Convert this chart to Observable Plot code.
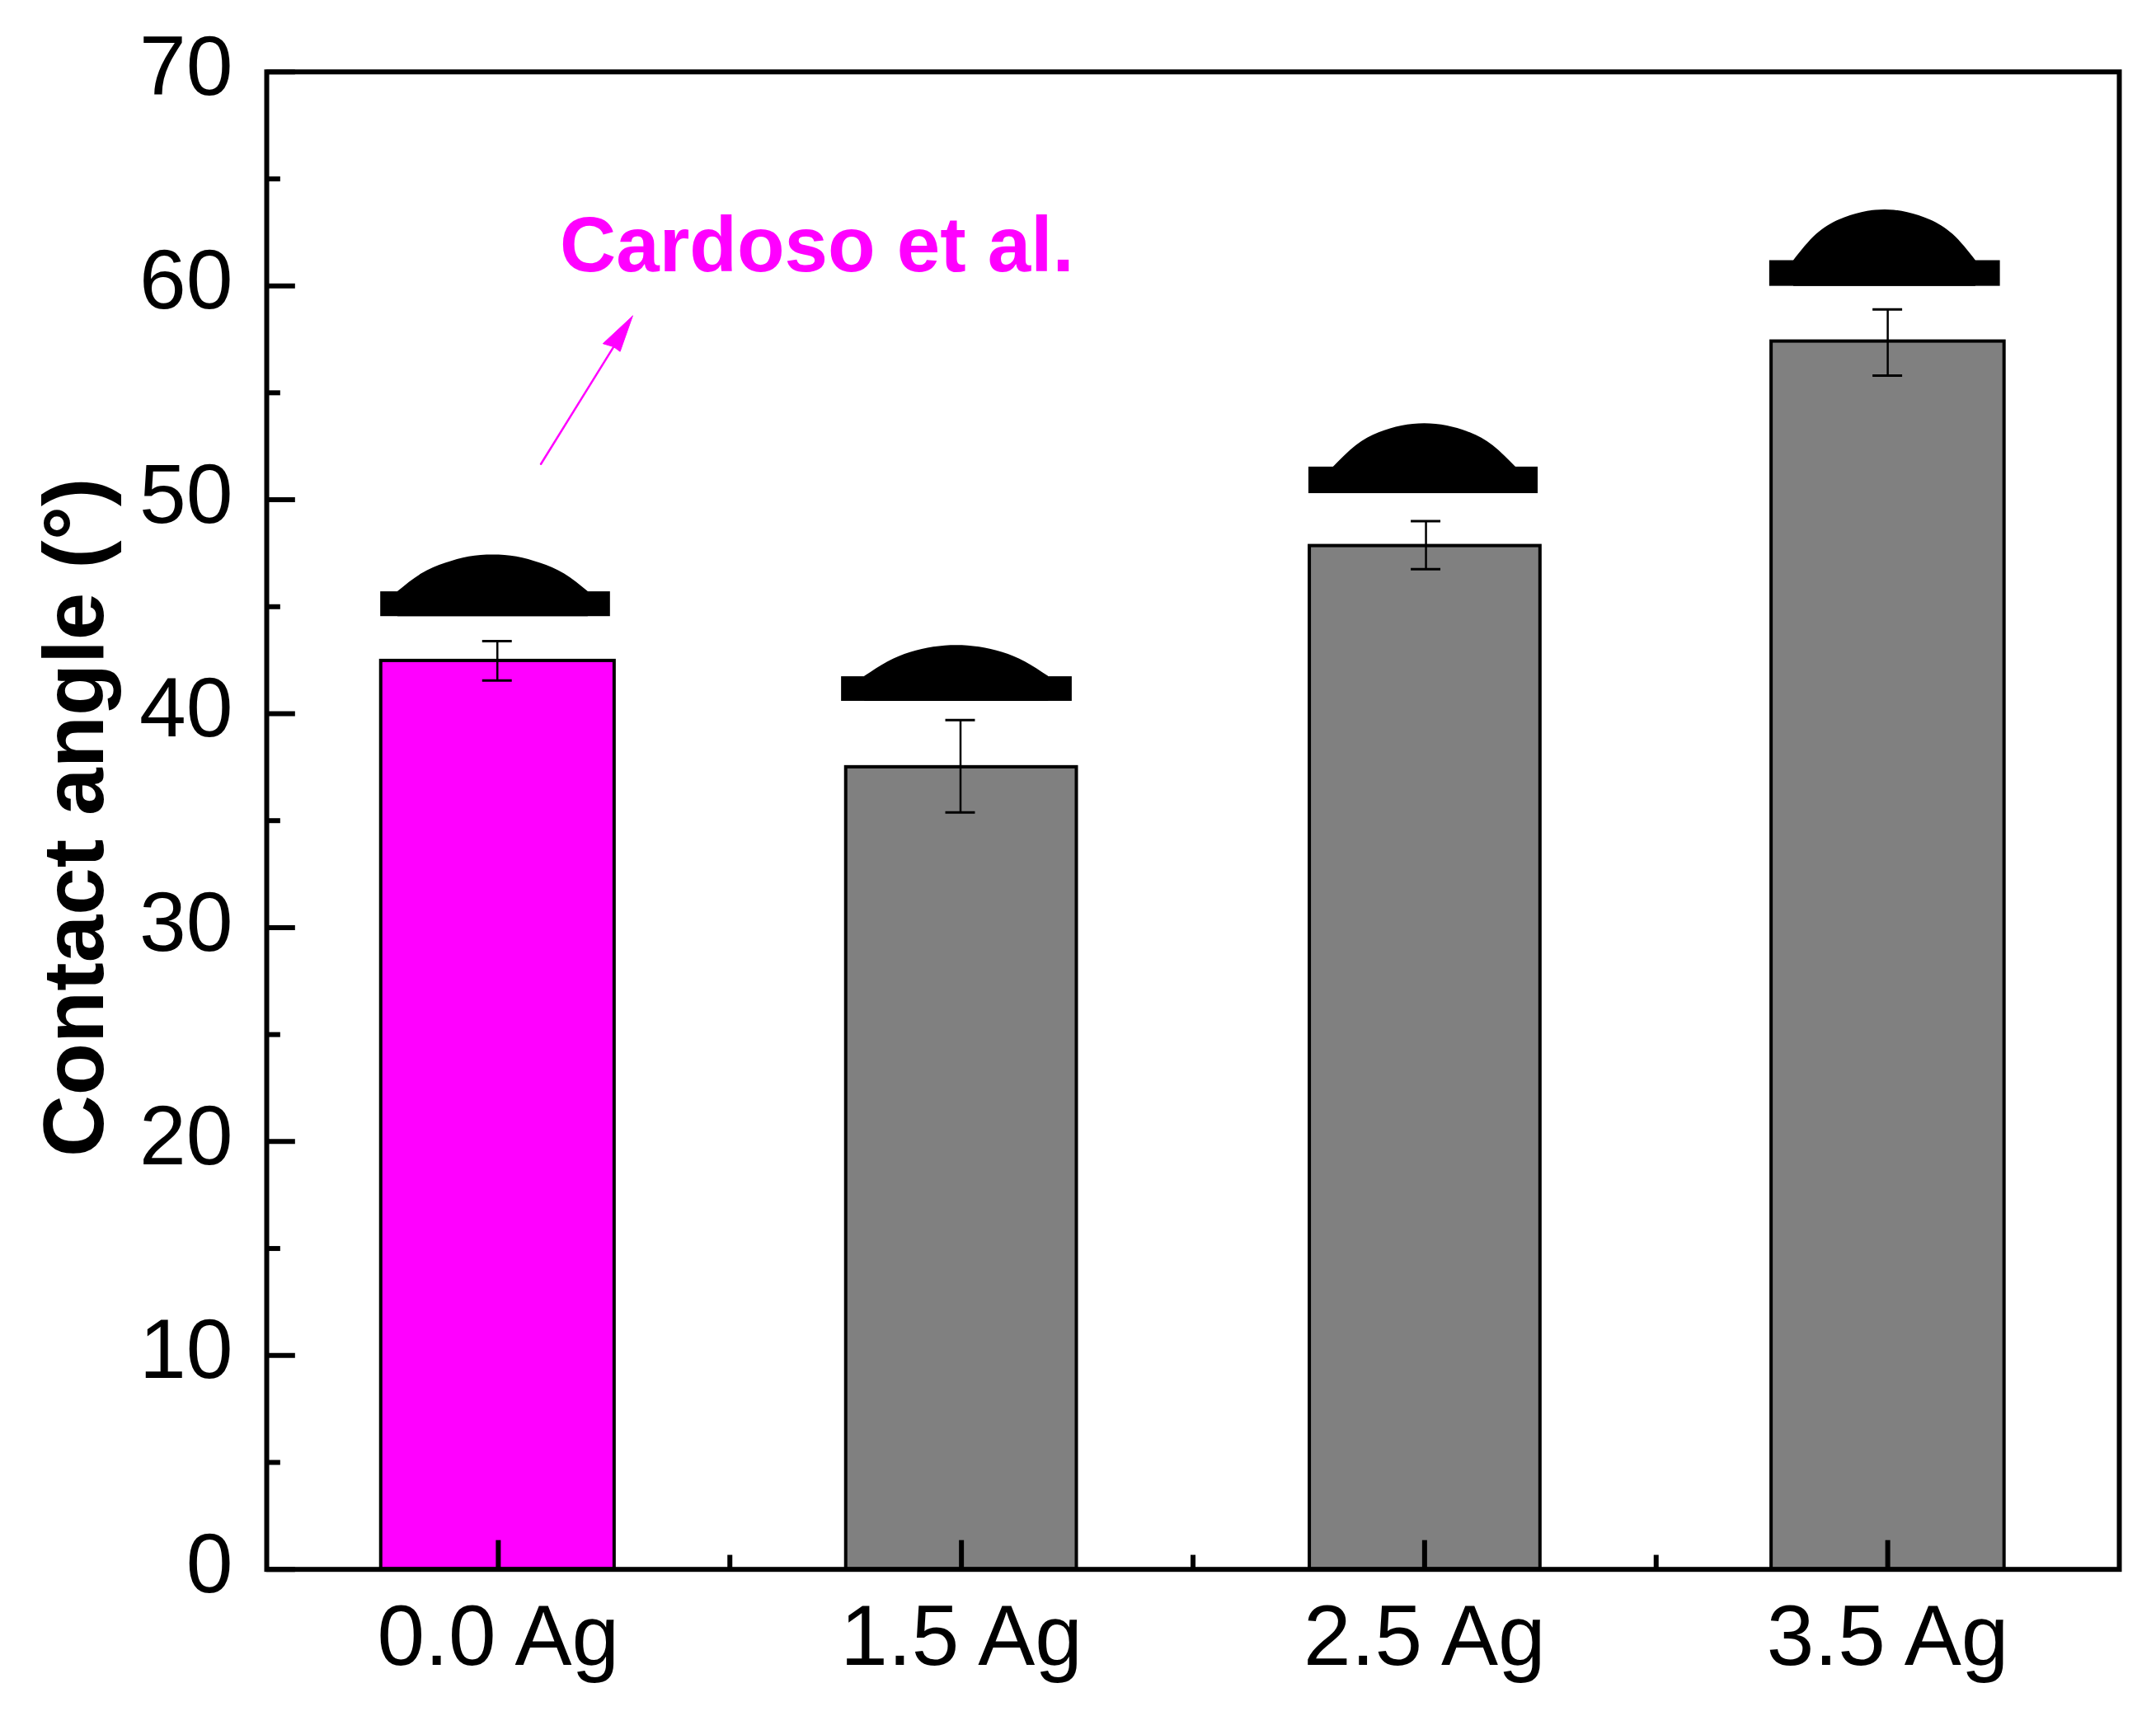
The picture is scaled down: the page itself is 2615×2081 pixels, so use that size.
<!DOCTYPE html>
<html>
<head>
<meta charset="utf-8">
<script src="https://cdn.jsdelivr.net/npm/d3@7"></script>
<script src="https://cdn.jsdelivr.net/npm/@observablehq/plot@0.6"></script>
<style>html,body{margin:0;padding:0;background:#fff}svg{display:block}</style>
</head>
<body>
<div id="chart"></div>
<script>
const categories = ["0.0 Ag", "1.5 Ag", "2.5 Ag", "3.5 Ag"];
const values = [42.47, 37.5, 47.84, 57.4];
const errLow = [41.55, 35.38, 46.75, 55.8];
const errHigh = [43.39, 39.7, 49.0, 58.9];
const errX = [0.998, 1.998, 3.003, 4.0];
const barLeft = [0.747, 1.751, 2.752, 3.749];
const barRight = [1.251, 2.249, 3.25, 4.252];
const barColors = ["#ff00ff", "#808080", "#808080", "#808080"];
const capHalf = 0.032;

const yMajor = [0, 10, 20, 30, 40, 50, 60, 70];
const yMinor = [5, 15, 25, 35, 45, 55, 65];
const xMajor = [1, 2, 3, 4];
const xMinor = [1.5, 2.5, 3.5];

// Droplet silhouettes, in chart units: substrate block + cap profile
const substrateLeft = [0.746, 1.741, 2.75, 3.745];
const substrateRight = [1.242, 2.239, 3.245, 4.243];
const substrateBottom = [44.54, 40.58, 50.29, 59.98];
const substrateTop = [45.7, 41.73, 51.53, 61.18];
const cap1X = [0.783, 0.834, 0.886, 0.937, 0.9885, 1.04, 1.091, 1.143, 1.194];
const cap1Y = [45.7, 46.53, 47.03, 47.33, 47.42, 47.33, 47.03, 46.53, 45.7];
const cap2X = [1.791, 1.841, 1.89, 1.94, 1.9895, 2.039, 2.089, 2.138, 2.188];
const cap2Y = [41.74, 42.42, 42.86, 43.11, 43.19, 43.11, 42.86, 42.42, 41.74];
const cap3X = [2.803, 2.852, 2.9015, 2.951, 3.0, 3.049, 3.0985, 3.148, 3.197];
const cap3Y = [51.52, 52.53, 53.13, 53.45, 53.56, 53.45, 53.13, 52.53, 51.52];
const cap4X = [3.797, 3.846, 3.895, 3.944, 3.9935, 4.043, 4.092, 4.141, 4.19];
const cap4Y = [61.18, 62.4, 63.08, 63.43, 63.55, 63.43, 63.08, 62.4, 61.18];

const annotation = "Cardoso et al.";
const annotationX = 1.133;
const annotationY = 60.7;
const arrowShaftX = [1.092, 1.249];
const arrowShaftY = [51.67, 57.15];
const arrowHeadX = [1.29, 1.226, 1.249, 1.263, 1.29];
const arrowHeadY = [58.59, 57.3, 57.15, 56.93, 58.59];
const yTitle = "Contact angle (°)";

const idx = categories.map((_, i) => i);
const caps = [[cap1X, cap1Y], [cap2X, cap2Y], [cap3X, cap3Y], [cap4X, cap4Y]];
const capRows = caps.flatMap(([xs, ys], k) => xs.map((x, i) => ({k, x, y: ys[i], base: substrateBottom[k]})));
const pts = (xs, ys) => xs.map((x, i) => ({x, y: ys[i]}));
const FONT = "'Liberation Sans', Arial, sans-serif";
const MAGENTA = "#ff00ff";

const chart = Plot.plot({
  width: 2615,
  height: 2081,
  marginLeft: 323,
  marginRight: 45,
  marginTop: 86.7,
  marginBottom: 178.3,
  style: {fontFamily: FONT, background: "#fff"},
  x: {type: "linear", domain: [0.5, 4.5]},
  y: {type: "linear", domain: [0, 70]},
  marks: [
    // bars
    Plot.rectY(idx, {
      x1: i => barLeft[i], x2: i => barRight[i], y1: 0, y2: i => values[i],
      fill: i => barColors[i], stroke: "#000", strokeWidth: 4
    }),
    // inward ticks
    Plot.ruleX(xMajor, {y1: 0, y2: 1.35, stroke: "#000", strokeWidth: 6}),
    Plot.ruleX(xMinor, {y1: 0, y2: 0.66, stroke: "#000", strokeWidth: 6}),
    Plot.ruleY(yMajor, {x1: 0.5, x2: 0.562, stroke: "#000", strokeWidth: 6}),
    Plot.ruleY(yMinor, {x1: 0.5, x2: 0.53, stroke: "#000", strokeWidth: 6}),
    // error bars
    Plot.ruleX(idx, {x: i => errX[i], y1: i => errLow[i], y2: i => errHigh[i], stroke: "#000", strokeWidth: 2.5}),
    Plot.ruleY(idx, {y: i => errLow[i], x1: i => errX[i] - capHalf, x2: i => errX[i] + capHalf, stroke: "#000", strokeWidth: 3}),
    Plot.ruleY(idx, {y: i => errHigh[i], x1: i => errX[i] - capHalf, x2: i => errX[i] + capHalf, stroke: "#000", strokeWidth: 3}),
    // droplets
    Plot.rect(idx, {
      x1: i => substrateLeft[i], x2: i => substrateRight[i],
      y1: i => substrateBottom[i], y2: i => substrateTop[i], fill: "#000"
    }),
    Plot.areaY(capRows, {x: "x", y1: "base", y2: "y", z: "k", fill: "#000", curve: "natural"}),
    // annotation
    Plot.line(pts(arrowShaftX, arrowShaftY), {x: "x", y: "y", stroke: MAGENTA, strokeWidth: 2.5}),
    Plot.line(pts(arrowHeadX, arrowHeadY), {x: "x", y: "y", fill: MAGENTA, stroke: MAGENTA, strokeWidth: 1}),
    Plot.text([annotation], {
      x: annotationX, y: annotationY, text: d => d, textAnchor: "start", lineAnchor: "bottom",
      fill: MAGENTA, fontSize: 94.3, fontWeight: "bold", dy: 1
    }),
    // axes
    Plot.axisY(yMajor, {
      anchor: "left", tickSize: 0, tickPadding: 41, fontSize: 102, dy: -5, label: null,
      fill: "#000", tickFormat: d => String(d)
    }),
    Plot.axisX(xMajor, {
      anchor: "bottom", tickSize: 0, tickPadding: 42, fontSize: 103.5, label: null,
      fill: "#000", tickFormat: d => categories[d - 1]
    }),
    Plot.text([yTitle], {
      frameAnchor: "left", text: d => d, rotate: -90, dx: -232, dy: -4, textAnchor: "middle", lineAnchor: "middle",
      fontSize: 103.5, fontWeight: "bold", fill: "#000"
    }),
    Plot.frame({stroke: "#000", strokeWidth: 6})
  ]
});
document.getElementById("chart").appendChild(chart);
</script>
</body>
</html>
